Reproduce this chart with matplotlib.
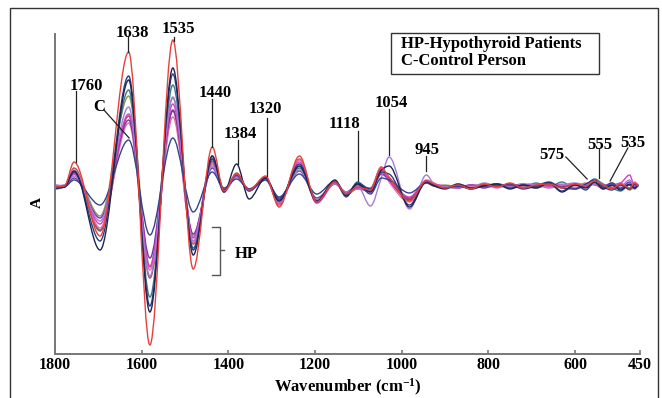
import numpy as np
import matplotlib
matplotlib.use("Agg")
import matplotlib.pyplot as plt
from matplotlib.path import Path
from matplotlib.patches import PathPatch, Rectangle

plt.rcParams['font.family'] = ['Liberation Serif', 'DejaVu Serif']
plt.rcParams['font.weight'] = 'bold'
plt.rcParams['mathtext.fontset'] = 'custom'
plt.rcParams['mathtext.rm'] = 'Liberation Serif:bold'
plt.rcParams['mathtext.it'] = 'Liberation Serif:bold'
plt.rcParams['mathtext.bf'] = 'Liberation Serif:bold'

# wavenumber knots (cm-1) where each spectrum was read (extrema / wiggles)
wavenumber = [1800, 1778, 1756, 1696, 1630, 1581, 1528, 1481, 1437, 1410, 1381,
              1352, 1314, 1283, 1236, 1196, 1154, 1128, 1102, 1072, 1047, 1029,
              982, 943, 925, 900, 870, 840, 810, 780, 750, 720, 690,
              660, 630, 600, 575, 555, 535, 515, 495, 474, 462, 454]

# second-derivative absorbance (arbitrary units) for each sample
hp_red = [-1, 0, 24, -50, 134, -159, 146, -83, 39, -5, 12,
          -4, 10, -21, 30, -16, 4, -8, -1, -4, 18, 9,
          -15, 5, 2, -2, 1, -3, 2, -1, 3, -2, 1,
          2, -2, 2, 0, 5, 1, -3, 2, -2, 3, 0]
hp_navy = [-2, -1, 15, -64, 106, -126, 118, -69, 30, -6, 22,
           -13, 8, -15, 20, -15, 6, -10, 2, -6, 16, 20,
           -21, 4, 0, -3, 2, -2, 0, 2, -3, 1, -2,
           3, -6, 1, -2, 4, -3, 1, -4, 2, -2, 1]
hp_blue = [-1, 0, 14, -55, 110, -120, 112, -64, 27, -4, 11,
           -5, 8, -14, 22, -16, 4, -9, 3, -3, 14, 12,
           -19, 5, 1, -2, 0, -3, 1, 0, 2, -3, 0,
           4, -2, -3, 2, 6, -1, -4, 1, -3, 2, 0]
hp_teal = [-3, -1, 12, -45, 96, -111, 101, -62, 25, -3, 10,
           -4, 7, -13, 18, -14, 5, -11, 4, -5, 12, 8,
           -12, 4, 1, -1, -2, 1, -1, 2, 0, -2, 3,
           -1, 4, -3, 1, 7, 2, -2, -5, 1, -3, 0]
hp_olive = [-1, 0, 13, -30, 90, -80, 88, -50, 22, -4, 9,
            -4, 7, -15, 20, -16, 3, -9, -3, -5, 14, 6,
            -12, 3, 0, 1, -1, 0, 2, -1, 1, 0, -2,
            1, -1, 2, -1, 3, 0, -2, 3, -4, -1, 0]
hp_violet = [0, 1, 10, -35, 79, -90, 89, -55, 20, -6, 9,
             -5, 6, -16, 16, -14, 2, -6, 0, -20, 8, 29,
             -23, 11, 2, -1, 1, -2, 3, 0, -1, 2, 1,
             -2, 1, 3, 1, 2, -1, 2, 0, 6, -2, 1]
hp_magenta = [1, 0, 12, -38, 72, -81, 82, -52, 24, -5, 10,
              -3, 8, -17, 24, -17, 3, -7, -2, -6, 16, 6,
              -11, 5, 2, 0, -2, 1, 0, 2, -1, 1, 2,
              0, 1, -2, 2, 1, -1, 1, 3, 11, -1, 2]
hp_purple = [0, 0, 8, -32, 66, -72, 76, -48, 18, -4, 9,
             -3, 6, -12, 15, -12, 2, -6, 1, -4, 12, 6,
             -14, 4, 1, 0, -1, 1, -2, 1, 0, 2, -1,
             1, 0, 1, -1, 2, 0, 3, -2, 4, 0, 1]
hp_pink = [0, 1, 16, -42, 63, -84, 69, -57, 28, -3, 10,
           -3, 7, -18, 26, -17, 2, -6, -3, -3, 19, 4,
           -16, 6, 3, -2, 2, -1, 1, -2, 2, 0, 1,
           -1, 2, 0, 3, 2, -3, 1, 2, -2, 4, 1]
hp_brown = [-1, 0, 18, -44, 70, -92, 75, -58, 30, -6, 13,
            -4, 9, -19, 27, -16, 3, -8, -1, -2, 19, 5,
            -13, 5, 1, -1, 0, -2, 1, 0, 1, -1, 0,
            1, -1, 2, 1, 3, -2, 0, 1, -3, 2, 0]
control = [-2, -1, 6, -19, 46, -49, 48, -26, 14, -2, 7,
           -3, 6, -11, 12, -8, 5, -8, 2, -8, 8, 6,
           -7, 3, 0, -2, 1, -3, 0, 2, -2, 1, 0,
           3, -5, 2, -4, 4, -2, 3, -3, 1, -2, 0]

series = [
    (hp_olive, '#8c9a55'), (hp_teal, '#3c7888'), (hp_brown, '#b04a50'),
    (hp_pink, '#e66aa6'), (hp_purple, '#7b2fa8'), (hp_magenta, '#d43fc4'),
    (hp_violet, '#a77ad6'), (control, '#34458c'), (hp_blue, '#2d3d80'),
    (hp_navy, '#1c2650'), (hp_red, '#e8403c'),
]

# peak annotations: label, text (x, y), leader line start, leader line end
peak_labels = ['1760', 'C', '1638', '1535', '1440', '1384', '1320',
               '1118', '1054', '945', '575', '555', '535']
label_xy = [(1728, 100), (1698, 79), (1622, 153), (1516, 157), (1431, 93),
            (1373, 52), (1315, 77), (1131, 62), (1025, 83), (941, 36),
            (653, 31), (542, 41), (466, 43)]
line_from = [(1751, 95), (1687, 76), (1631, 149), (1525, 149), (1438, 87),
             (1378, 46), (1311, 68), (1101, 55), (1029, 77), (944, 30),
             (621, 29), (545, 37), (478, 38)]
line_to = [(1751, 24), (1629, 48), (1631, 134), (1525, 145), (1438, 39),
           (1378, 22), (1311, 10), (1101, 5), (1029, 31), (944, 15),
           (572, 7), (545, 8), (519, 5)]


def smooth_path(x, y):
    """Monotone cubic (PCHIP-like) bezier path through the read knots."""
    x = np.asarray(x, float)
    y = np.asarray(y, float)
    h = np.diff(x)
    d = np.diff(y) / h
    m = np.zeros_like(y)
    for i in range(1, len(y) - 1):
        if d[i - 1] * d[i] > 0:
            m[i] = 2.0 / (1.0 / d[i - 1] + 1.0 / d[i])
    verts = [(x[0], y[0])]
    codes = [Path.MOVETO]
    for i in range(len(x) - 1):
        verts += [(x[i] + h[i] / 3, y[i] + m[i] * h[i] / 3),
                  (x[i + 1] - h[i] / 3, y[i + 1] - m[i + 1] * h[i] / 3),
                  (x[i + 1], y[i + 1])]
        codes += [Path.CURVE4] * 3
    return Path(verts, codes)


fig = plt.figure(figsize=(6.62, 3.98), dpi=100)
ax = fig.add_axes([55 / 662, 1 - 354 / 398, 585 / 662, 320 / 398])

for vals, col in series:
    ax.add_patch(PathPatch(smooth_path(wavenumber, vals), facecolor='none',
                           edgecolor=col, lw=1.0))

ax.set_xlim(1800, 450)
ax.set_ylim(-168, 152)
ax.set_xticks([1800, 1600, 1400, 1200, 1000, 800, 600, 450])
ax.set_yticks([])
for s in ['top', 'right']:
    ax.spines[s].set_visible(False)
for s in ['left', 'bottom']:
    ax.spines[s].set_color('#777777')
    ax.spines[s].set_linewidth(1.4)
ax.tick_params(axis='x', colors='#777777', length=3, width=1.2, direction='in',
               labelcolor='black', labelsize=11.5, pad=2)
for t in ax.get_xticklabels():
    t.set_fontweight('bold')

ax.set_xlabel('Wavenumber (cm$^{-1}$)', fontsize=12, fontweight='bold', labelpad=3)
fig.text(37 / 662, 1 - 202 / 398, 'A', rotation=90, fontsize=11,
         fontweight='bold', ha='center', va='center')

for lab, (tx, ty), (x0, y0), (x1, y1) in zip(peak_labels, label_xy, line_from, line_to):
    ax.text(tx, ty, lab, ha='center', va='center', fontsize=12,
            fontweight='bold', clip_on=False)
    ax.plot([x0, x1], [y0, y1], color='#222222', lw=0.9, clip_on=False)

# HP bracket
ax.plot([1438, 1419, 1419, 1438], [-41, -41, -89, -89], color='#555555', lw=1.0)
ax.plot([1419, 1410], [-64, -64], color='#555555', lw=1.0)
ax.text(1359, -68, 'HP', ha='center', va='center', fontsize=12, fontweight='bold')

# legend box
fig.patches.append(Rectangle((391 / 662, 1 - 74 / 398), 208 / 662, 41 / 398,
                             transform=fig.transFigure, facecolor='white',
                             edgecolor='#333333', lw=1.0))
fig.text(401 / 662, 1 - 44 / 398, 'HP-Hypothyroid Patients', fontsize=12,
         fontweight='bold', va='center', ha='left')
fig.text(401 / 662, 1 - 61 / 398, 'C-Control Person', fontsize=12,
         fontweight='bold', va='center', ha='left')

# outer frame
fig.patches.append(Rectangle((10 / 662, -0.05), 648 / 662, 1.05 - 8 / 398,
                             transform=fig.transFigure, facecolor='none',
                             edgecolor='#333333', lw=1.0))

fig.savefig('out.png', dpi=100)
